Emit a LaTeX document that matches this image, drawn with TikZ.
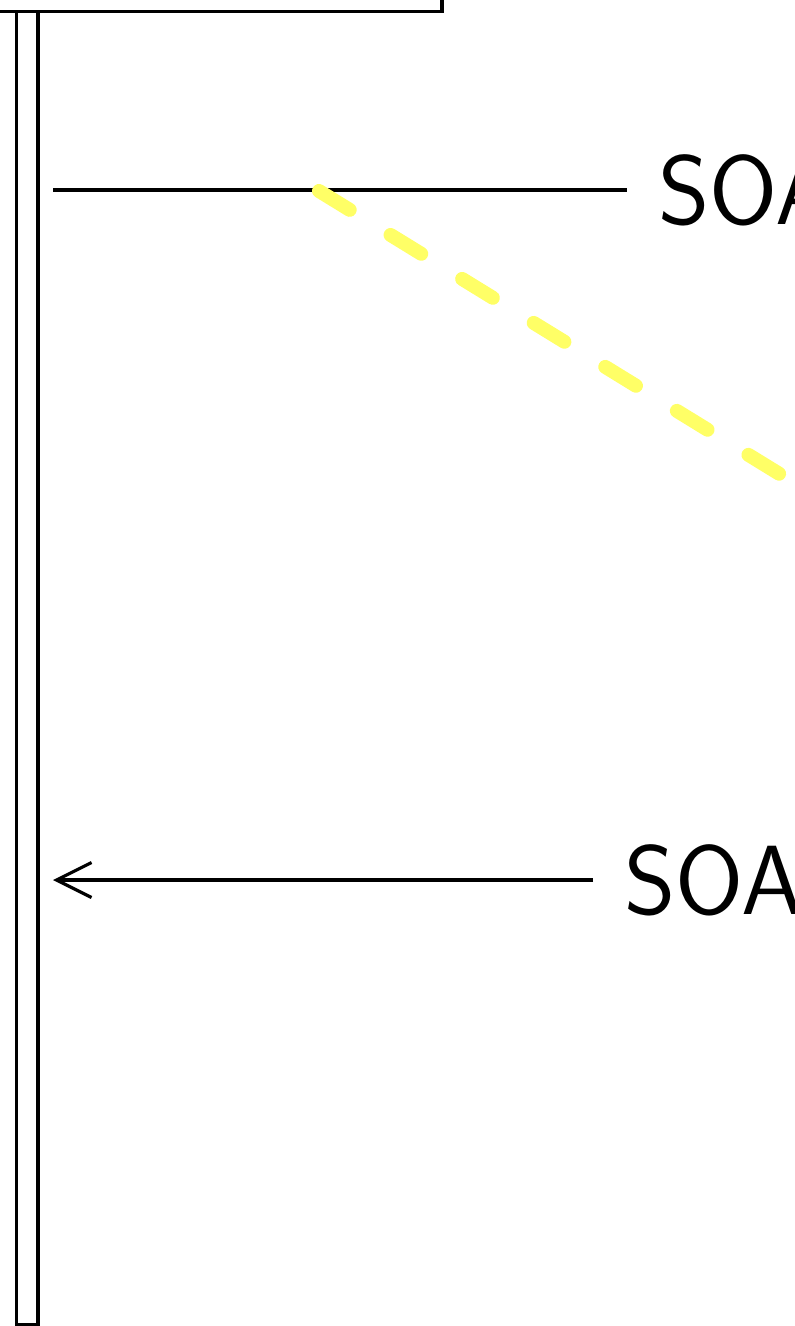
\documentclass[tikz,border=0pt]{standalone}
\usetikzlibrary{arrows.meta, positioning, calc}
\definecolor{noteyellow}{RGB}{255,255,102}

\begin{document}
\begin{tikzpicture}[line width=0.9pt,
    lane/.style={draw, rectangle, inner sep=0pt, outer sep=0pt},
    msg/.style={font=\sffamily\fontsize{28}{34}\selectfont, anchor=west, inner sep=0pt, inner xsep=0.3cm}]
    \useasboundingbox (0,0) rectangle (7.95,-13.26);
    % participant and lifeline
    \node[lane, anchor=south east, minimum width=5cm, minimum height=1cm] (client) at (4.42,-0.115) {};
    \node[lane, anchor=north, minimum width=0.215cm, minimum height=13.13cm] (life) at (0.2725,-0.115) {};
    % messages
    \coordinate (m1) at (0.53,-1.90);
    \coordinate (m2) at (0.53,-8.80);
    \node[msg] (soa1) at (6.27,-1.90) {SOA};
    \node[msg] (soa2) at (5.93,-8.80) {SOA};
    \draw (m1) -- (soa1.west);
    \draw[-{Straight Barb[length=0.35cm, width=0.35cm]}] (soa2.west) -- (m2);
    % highlight
    \coordinate (h1) at (3.19,-1.91);
    \coordinate (h2) at (9.00,-5.48);
    \draw[noteyellow, line width=0.14cm, line cap=round, dash pattern=on 0.36cm off 0.48cm] (h1) -- (h2);
\end{tikzpicture}
\end{document}
